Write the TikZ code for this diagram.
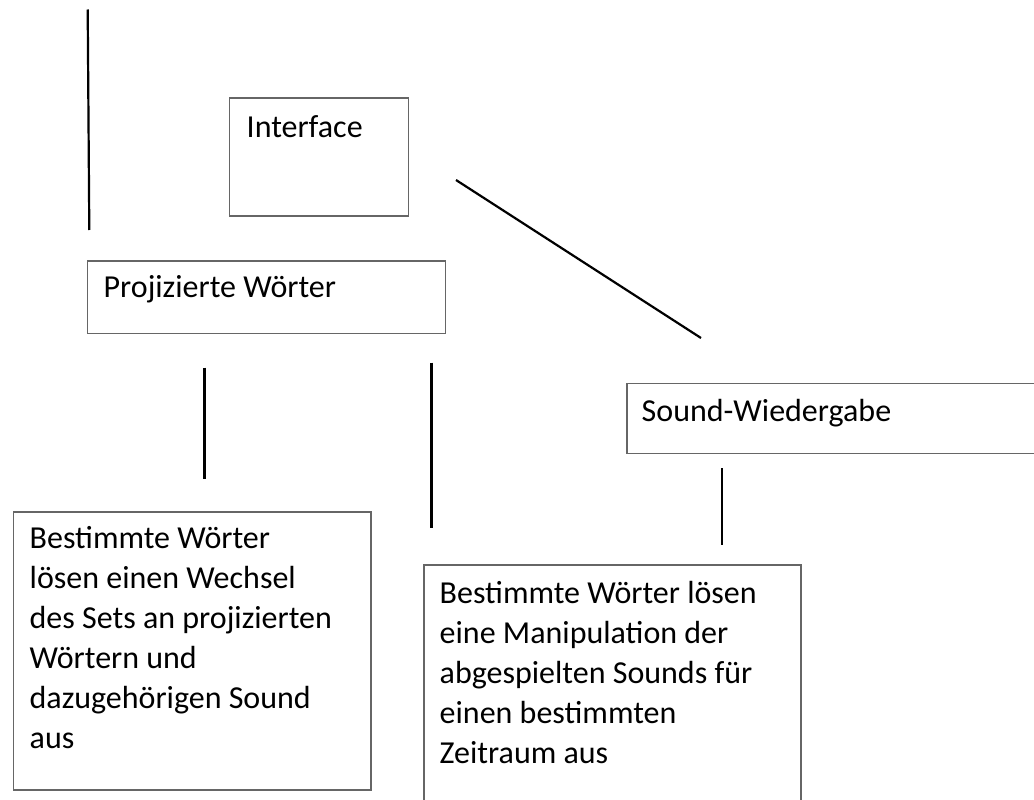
\documentclass[tikz,border=0pt]{standalone}
\usepackage{fontspec}
\setmainfont{Carlito}
\begin{document}
\begin{tikzpicture}[x=1pt,y=-1pt,
  box/.style={draw=black!60, line width=1.6pt, rectangle, inner sep=0pt, anchor=north west},
  txt/.style={inner sep=0pt, align=left, font=\fontsize{32}{40}\selectfont, anchor=base west},
  conn/.style={draw=black, line width=2.2pt}]
\useasboundingbox (0,0) rectangle (1034,800);
\clip (0,0) rectangle (1034,800);
% boxes
\node[box, minimum width=179pt, minimum height=118pt] (iface) at (228.5,97) {};
\node[txt] (ifacet) at (246.5,137.5) {Interface};
\node[box, minimum width=358pt, minimum height=72.5pt] (proj) at (86.5,260) {};
\node[txt] (projt) at (103.5,297.5) {Projizierte Wörter};
\node[box, minimum width=430pt, minimum height=70pt] (sound) at (626,382.5) {};
\node[txt] (soundt) at (641.5,421.5) {Sound-Wiedergabe};
\node[box, minimum width=357.5pt, minimum height=278pt] (b1) at (12.5,511) {};
% base anchor of a multi-line node lies on its last line
\node[txt] (b1t) at (29.5,748.5) {Bestimmte Wörter\\lösen einen Wechsel\\des Sets an projizierten\\Wörtern und\\dazugehörigen Sound\\aus};
\node[box, minimum width=377pt, minimum height=260pt] (b2) at (423,564) {};
\node[txt] (b2t) at (439.5,763.5) {Bestimmte Wörter lösen\\eine Manipulation der\\abgespielten Sounds für\\einen bestimmten\\Zeitraum aus};
% connector ends
\coordinate (t1) at (87.7,9.5);
\coordinate (t2) at (89.3,230);
\coordinate (d1) at (456,180);
\coordinate (d2) at (701,338);
\coordinate (v1a) at (204.5,367.5);
\coordinate (v1b) at (204.5,478.5);
\coordinate (v2a) at (431.5,362.5);
\coordinate (v2b) at (431.5,528);
\coordinate (v3a) at (722.3,468);
\coordinate (v3b) at (722.3,545);
\draw[conn] (t1) -- (t2);
\draw[conn] (d1) -- (d2);
\draw[conn] (v1a) -- (v1b);
\draw[conn] (v2a) -- (v2b);
\draw[conn] (v3a) -- (v3b);
\end{tikzpicture}
\end{document}
